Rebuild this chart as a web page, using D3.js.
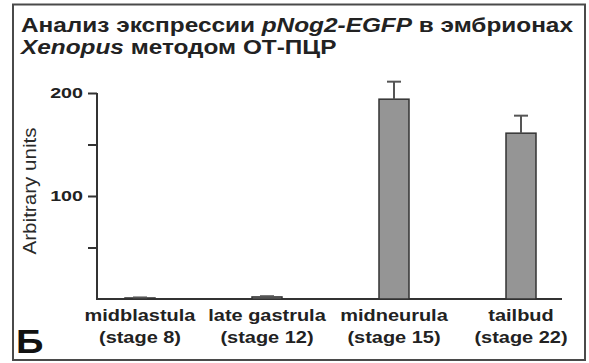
<!DOCTYPE html>
<html><head><meta charset="utf-8">
<script src="https://cdn.jsdelivr.net/npm/d3@7"></script>
<style>body{margin:0;background:#fff}svg{display:block}text{font-family:"Liberation Sans",Arial,sans-serif}</style>
</head><body>
<svg id="c" width="589" height="363"></svg>
<script>
const categories = ["midblastula", "late gastrula", "midneurula", "tailbud"];
const stages = ["(stage 8)", "(stage 12)", "(stage 15)", "(stage 22)"];
const values = [1, 2, 194, 161];
const errors = [0.5, 0.7, 17, 17];
const majorTicks = [100, 200];
const minorTicks = [50, 150];

const SX = 1.27; // horizontal stretch of the original lettering
const svg = d3.select("#c");
svg.append("rect").attr("x",13).attr("y",4.5).attr("width",572).attr("height",355.5)
  .attr("fill","none").attr("stroke","#4a4a4a").attr("stroke-width",2);

const x = d3.scalePoint().domain(categories).range([140, 521]);
const y = d3.scaleLinear().domain([0, 200]).range([299, 93]);
const bw = 30;

function stretched(parent, px, py, sx) {
  return parent.append("text").attr("transform", `translate(${px},${py}) scale(${sx},1)`);
}

// title
const t1 = stretched(svg, 21, 31.5, 1.25).attr("font-size",19.5).attr("font-weight","bold").attr("fill","#222");
t1.append("tspan").text("Анализ экспрессии ");
t1.append("tspan").attr("font-style","italic").text("pNog2-EGFP");
t1.append("tspan").text(" в эмбрионах");
const t2 = stretched(svg, 21, 53.5, 1.25).attr("font-size",19.5).attr("font-weight","bold").attr("fill","#222");
t2.append("tspan").attr("font-style","italic").text("Xenopus");
t2.append("tspan").text(" методом ОТ-ПЦР");

// y axis
const yAxis = d3.axisLeft(y).tickValues(majorTicks).tickSize(9).tickPadding(5).tickFormat(d3.format("d"));
const ga = svg.append("g").attr("transform","translate(97,0)").call(yAxis);
ga.select(".domain").attr("stroke","#333").attr("stroke-width",2).attr("d","M0,"+y(200)+"V"+y(0));
ga.selectAll(".tick line").attr("stroke","#333").attr("stroke-width",2);
ga.selectAll(".tick text").attr("font-size",15.5).attr("font-weight","bold").attr("fill","#222")
  .attr("font-family","Liberation Sans, Arial, sans-serif")
  .attr("x", -14 / SX).attr("transform", `scale(${SX},1)`);
const gm = svg.append("g").attr("transform","translate(97,0)").call(d3.axisLeft(y).tickValues(minorTicks).tickSize(9).tickFormat(""));
gm.select(".domain").remove();
gm.selectAll(".tick line").attr("stroke","#333").attr("stroke-width",2);

svg.append("text").attr("transform","translate(36,191) rotate(-90)").attr("text-anchor","middle")
  .attr("font-size",18).attr("fill","#2a2a2a").attr("textLength",127).attr("lengthAdjust","spacingAndGlyphs")
  .text("Arbitrary units");

// baseline
svg.append("line").attr("x1",96).attr("x2",562).attr("y1",y(0)).attr("y2",y(0)).attr("stroke","#333").attr("stroke-width",2);

// bars
svg.selectAll("rect.bar").data(categories).join("rect").attr("class","bar")
  .attr("x", d => x(d) - bw/2).attr("width", bw)
  .attr("y", (d,i) => y(values[i])).attr("height", (d,i) => y(0) - y(values[i]))
  .attr("fill","#959595").attr("stroke","#333").attr("stroke-width",1.5);
// error bars
const eg = svg.append("g").attr("stroke","#555").attr("stroke-width",2);
categories.forEach((d,i) => {
  eg.append("line").attr("x1",x(d)).attr("x2",x(d)).attr("y1",y(values[i])).attr("y2",y(values[i]+errors[i]));
  eg.append("line").attr("x1",x(d)-7).attr("x2",x(d)+7).attr("y1",y(values[i]+errors[i])).attr("y2",y(values[i]+errors[i]));
});

// category labels
categories.forEach((d,i) => {
  stretched(svg, x(d), 321, 1.21).attr("font-size",16.5).attr("font-weight","bold").attr("fill","#222")
    .attr("text-anchor","middle").text(d);
  stretched(svg, x(d), 342.5, 1.21).attr("font-size",16.5).attr("font-weight","bold").attr("fill","#222")
    .attr("text-anchor","middle").text(stages[i]);
});

stretched(svg, 16, 353, 1.14).attr("font-size",33.5).attr("font-weight","bold").attr("fill","#111").text("Б");
</script>
</body></html>
